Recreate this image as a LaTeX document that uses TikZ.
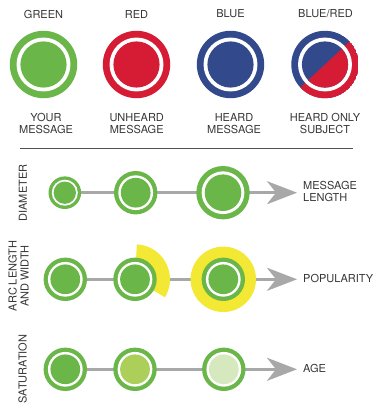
\documentclass[tikz,border=0pt]{standalone}
\usepackage{fontspec}
\setmainfont{TeX Gyre Heros}
\usetikzlibrary{arrows.meta}
\definecolor{cgreen}{RGB}{106,182,72}
\definecolor{cred}{RGB}{214,27,52}
\definecolor{cblue}{RGB}{50,74,140}
\definecolor{cyellow}{RGB}{243,233,53}
\definecolor{clight}{RGB}{171,207,88}
\definecolor{cpale}{RGB}{214,232,190}
\definecolor{carrow}{RGB}{168,168,168}
\definecolor{ctext}{RGB}{55,55,55}
\definecolor{crule}{RGB}{80,80,80}
\pgfdeclarelayer{back}
\pgfdeclarelayer{mid}
\pgfsetlayers{back,mid,main}
\tikzset{
  msg/.style n args={3}{circle, inner sep=0pt, outer sep=0pt, minimum size={2*#1pt}, fill=#2,
    path picture={
      \fill[white] (path picture bounding box.center) circle ({0.8*#1pt});
      \fill[#3] (path picture bounding box.center) circle ({0.685*#1pt});
    }},
  splitmsg/.style={circle, inner sep=0pt, outer sep=0pt, minimum size={2*#1pt},
    path picture={
      \begin{scope}[shift={(path picture bounding box.center)}]
        \fill[cblue] (0,0) circle ({#1pt});
        \begin{scope}
          \clip (43:60) -- (223:60) -- (313:60) -- cycle;
          \fill[cred] (0,0) circle ({#1pt});
        \end{scope}
        \fill[white] (0,0) circle ({0.8*#1pt});
        \fill[cblue] (0,0) circle ({0.685*#1pt});
        \begin{scope}
          \clip (43:60) -- (223:60) -- (313:60) -- cycle;
          \fill[cred] (0,0) circle ({0.685*#1pt});
        \end{scope}
      \end{scope}
    }},
  lbl/.style={text=ctext, font=\fontsize{11}{12}\selectfont, inner sep=0pt, align=center},
  arr/.style={draw=carrow, line width=3pt, -{Stealth[length=30pt, width=23pt, inset=9pt]}},
  rulest/.style={draw=crule, line width=1.5pt},
  halo/.style={circle, inner sep=0pt, outer sep=0pt, fill=cyellow, minimum size=65.4pt}
}
\begin{document}
\begin{tikzpicture}[x=1pt,y=1pt]
\begin{pgfonlayer}{back}
  \path[use as bounding box, fill=white] (0,0) rectangle (375,-406);
\end{pgfonlayer}

% top row
\node[lbl] (h1) at (43.5,-14) {GREEN};
\node[lbl] (h2) at (136.5,-14) {RED};
\node[lbl] (h3) at (230.5,-14) {BLUE};
\node[lbl] (h4) at (325.5,-14) {BLUE/RED};
\node[msg={33.7}{cgreen}{cgreen}] (t1) at (43.5,-64.5) {};
\node[msg={33.7}{cred}{cred}] (t2) at (136.5,-64.5) {};
\node[msg={33.7}{cblue}{cblue}] (t3) at (230.5,-64.5) {};
\node[splitmsg=33.7] (t4) at (325,-64.5) {};
\node[lbl] (b1) at (46,-123.3) {YOUR\\MESSAGE};
\node[lbl] (b2) at (136.7,-123.3) {UNHEARD\\MESSAGE};
\node[lbl] (b3) at (234,-123.3) {HEARD\\MESSAGE};
\node[lbl] (b4) at (325,-123.3) {HEARD ONLY\\SUBJECT};

% separator
\coordinate (s1) at (20,-148.5);
\coordinate (s2) at (353,-148.5);
\draw[rulest] (s1) -- (s2);

% diameter row
\node[lbl, rotate=90] (dv) at (22.8,-193) {DIAMETER};
\node[msg={16.3}{cgreen}{cgreen}] (d1) at (64.8,-192.7) {};
\node[msg={21.7}{cgreen}{cgreen}] (d2) at (135.7,-192.7) {};
\node[msg={26.7}{cgreen}{cgreen}] (d3) at (223,-192.7) {};
\coordinate (d4) at (297,-192.7);
\node[lbl, anchor=west, align=left] (dl) at (303,-191.5) {MESSAGE\\LENGTH};

% popularity row
\node[lbl, rotate=90] (pv) at (18.5,-276) {ARC LENGTH\\AND WIDTH};
\node[msg={21.7}{cgreen}{cgreen}] (p1) at (65.3,-279.3) {};
\node[msg={21.7}{cgreen}{cgreen}] (p2) at (135,-279.3) {};
\node[msg={21.7}{cgreen}{cgreen}] (p3) at (223.3,-279.3) {};
\coordinate (p4) at (297,-279.3);
\node[lbl, anchor=west] (pl) at (303,-278.5) {POPULARITY};
\begin{pgfonlayer}{mid}
  \fill[cyellow] (p2.center) -- ++(-31:35) arc[start angle=-31, end angle=87, radius=35] -- cycle;
  \node[halo] (p3y) at (p3) {};
\end{pgfonlayer}

% saturation row
\node[lbl, rotate=90] (av) at (22.5,-369) {SATURATION};
\node[msg={21.7}{cgreen}{cgreen}] (a1) at (65.3,-369.3) {};
\node[msg={21.7}{cgreen}{clight}] (a2) at (135,-369.3) {};
\node[msg={21.7}{cgreen}{cpale}] (a3) at (223.8,-369.3) {};
\coordinate (a4) at (297,-369.3);
\node[lbl, anchor=west] (al) at (303,-368.5) {AGE};

\begin{pgfonlayer}{back}
  \draw[arr] (d1.center) -- (d4);
  \draw[arr] (p1.center) -- (p4);
  \draw[arr] (a1.center) -- (a4);
\end{pgfonlayer}
\end{tikzpicture}
\end{document}
